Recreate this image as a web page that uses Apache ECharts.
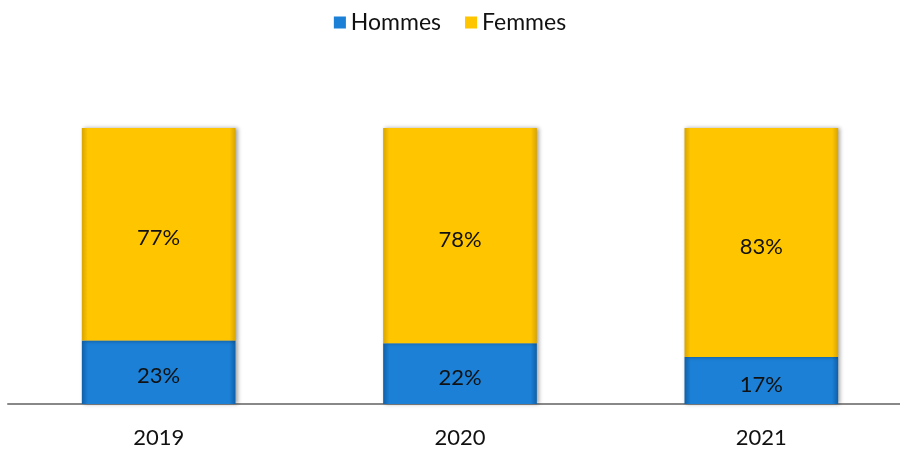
<!DOCTYPE html>
<html>
<head>
<meta charset="utf-8">
<script src="https://cdn.jsdelivr.net/npm/echarts@6/dist/echarts.min.js"></script>
<style>
html, body { margin: 0; padding: 0; background: #fff; }
#main { width: 900px; height: 452px; }
</style>
</head>
<body>
<div id="main"></div>
<script>
var years = ['2019', '2020', '2021'];
var hommes = [23, 22, 17];
var femmes = [77, 78, 83];

var myChart = echarts.init(document.getElementById('main'));

function bevel(dark, mid) {
    return new echarts.graphic.LinearGradient(0, 0, 1, 0, [
        { offset: 0, color: dark },
        { offset: 0.04, color: mid },
        { offset: 0.96, color: mid },
        { offset: 1, color: dark }
    ]);
}

var labelStyle = {
    show: true,
    position: 'inside',
    offset: [0, 4],
    color: '#111',
    fontSize: 22,
    fontFamily: 'Lato',
    formatter: '{c}%'
};

var option = {
    legend: {
        top: 6,
        left: 'center',
        itemWidth: 12,
        itemHeight: 12,
        itemGap: 24,
        icon: 'rect',
        textStyle: { fontSize: 23, fontFamily: 'Lato', color: '#111' },
        data: ['Hommes', 'Femmes']
    },
    grid: { left: 8, width: 904, top: 128, bottom: 48, outerBoundsMode: 'none', containLabel: false },
    xAxis: {
        type: 'category',
        data: years,
        axisLine: { lineStyle: { color: '#888', width: 2 } },
        axisTick: { show: false },
        axisLabel: { fontSize: 22, fontFamily: 'Lato', color: '#111', margin: 23 }
    },
    yAxis: {
        type: 'value',
        min: 0,
        max: 100,
        show: false
    },
    series: [
        {
            name: 'Hommes',
            type: 'bar',
            stack: 'total',
            barWidth: '51%',
            data: hommes,
            label: labelStyle,
            itemStyle: {
                color: bevel('#0f5fa8', '#1b80d6'),
                shadowColor: 'rgba(0,0,0,0.35)',
                shadowBlur: 4,
                shadowOffsetX: 2
            }
        },
        {
            name: 'Femmes',
            type: 'bar',
            stack: 'total',
            data: femmes,
            label: labelStyle,
            itemStyle: {
                color: bevel('#d9a400', '#ffc600'),
                shadowColor: 'rgba(0,0,0,0.35)',
                shadowBlur: 4,
                shadowOffsetX: 2
            }
        }
    ]
};

if (option && typeof option === "object") {
    myChart.setOption(option, true);
}
</script>
</body>
</html>
